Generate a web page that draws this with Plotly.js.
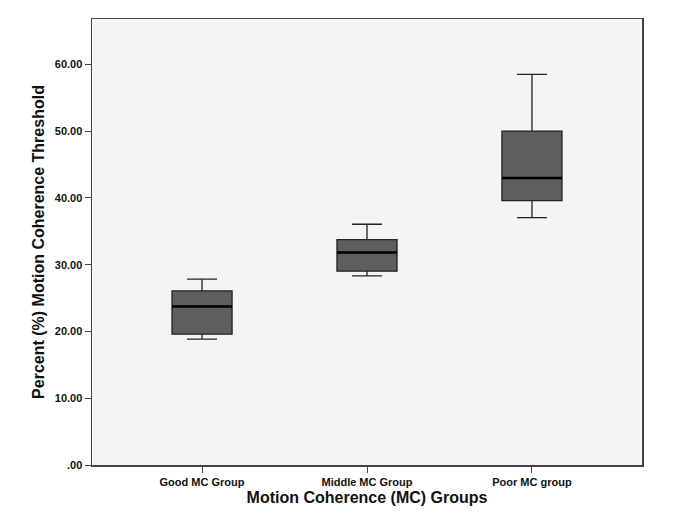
<!DOCTYPE html>
<html>
<head>
<meta charset="utf-8">
<script src="https://cdn.plot.ly/plotly-3.0.1.min.js"></script>
<style>
  html, body { margin: 0; padding: 0; background: #fff; }
  #chart { width: 685px; height: 519px; }
</style>
</head>
<body>
<div id="chart"></div>
<script>
// MC groups, five-number summaries
const groups = ['Good MC Group', 'Middle MC Group', 'Poor MC group'];
const lowerWhisker = [18.85, 28.33, 37.06];
const q1 = [19.60, 29.03, 39.61];
const medians = [23.75, 31.83, 42.99];
const q3 = [26.08, 33.77, 50.02];
const upperWhisker = [27.83, 36.06, 58.51];

const yTickVals = [0, 10, 20, 30, 40, 50, 60];
const yTickText = ['.00', '10.00', '20.00', '30.00', '40.00', '50.00', '60.00'];

const font = { family: 'Liberation Sans, Arial, sans-serif', color: '#111' };

const boxTrace = {
    type: 'box',
    x: groups,
    q1: q1,
    median: medians,
    q3: q3,
    lowerfence: lowerWhisker,
    upperfence: upperWhisker,
    boxpoints: false,
    width: 0.364,
    whiskerwidth: 0.5,
    fillcolor: '#5e5e5e',
    line: { color: '#222', width: 1.3 },
    hoverinfo: 'y',
    showlegend: false,
};

// thicker median bar on top of each box
const medianTrace = {
    type: 'box',
    x: groups,
    q1: medians,
    median: medians,
    q3: medians,
    lowerfence: medians,
    upperfence: medians,
    boxpoints: false,
    width: 0.364,
    whiskerwidth: 0,
    fillcolor: 'rgba(0,0,0,0)',
    line: { color: '#000', width: 2.6 },
    hoverinfo: 'skip',
    showlegend: false,
};

const layout = {
    width: 685,
    height: 519,
    margin: { l: 92, r: 43, t: 19, b: 54 },
    paper_bgcolor: '#ffffff',
    plot_bgcolor: '#f4f4f4',
    font: font,
    boxmode: 'overlay',
    showlegend: false,
    xaxis: {
        type: 'category',
        range: [-0.667, 2.667],
        showline: true, mirror: true,
        linecolor: '#444', linewidth: 1.5,
        ticks: 'outside', ticklen: 6, tickcolor: '#444',
        showgrid: false, zeroline: false,
        tickfont: { size: 11, weight: 'bold', family: font.family, color: '#111' },
        title: {
            text: 'Motion Coherence (MC) Groups',
            font: { size: 16, weight: 'bold', family: font.family, color: '#111' },
            standoff: 5,
        },
    },
    yaxis: {
        range: [0, 66.8],
        tickvals: yTickVals,
        ticktext: yTickText,
        showline: true, mirror: true,
        linecolor: '#444', linewidth: 1.5,
        ticks: 'outside', ticklen: 6, tickcolor: '#444',
        showgrid: false, zeroline: false,
        tickfont: { size: 11, weight: 'bold', family: font.family, color: '#111' },
        title: {
            text: 'Percent (%) Motion Coherence Threshold',
            font: { size: 16, weight: 'bold', family: font.family, color: '#111' },
            standoff: 6,
        },
    },
};

Plotly.newPlot('chart', [boxTrace, medianTrace], layout, { displayModeBar: false, staticPlot: true });
</script>
</body>
</html>
